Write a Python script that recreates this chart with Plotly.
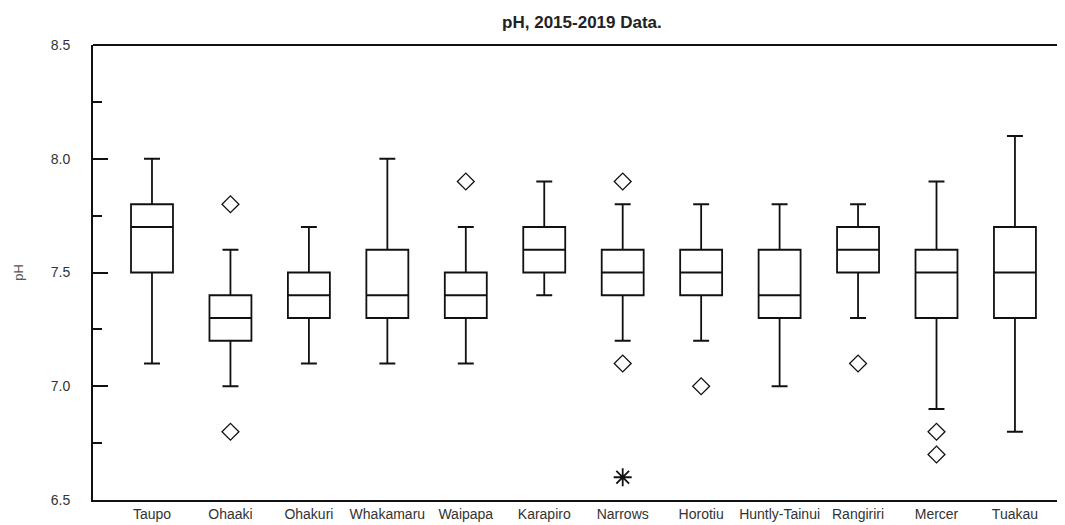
import plotly.graph_objects as go

# Sites along the river, upstream to downstream
sites = ["Taupo", "Ohaaki", "Ohakuri", "Whakamaru", "Waipapa", "Karapiro",
         "Narrows", "Horotiu", "Huntly-Tainui", "Rangiriri", "Mercer", "Tuakau"]

# Box statistics
lower_whisker = [7.1, 7.0, 7.1, 7.1, 7.1, 7.4, 7.2, 7.2, 7.0, 7.3, 6.9, 6.8]
q1_values = [7.5, 7.2, 7.3, 7.3, 7.3, 7.5, 7.4, 7.4, 7.3, 7.5, 7.3, 7.3]
medians = [7.7, 7.3, 7.4, 7.4, 7.4, 7.6, 7.5, 7.5, 7.4, 7.6, 7.5, 7.5]
q3_values = [7.8, 7.4, 7.5, 7.6, 7.5, 7.7, 7.6, 7.6, 7.6, 7.7, 7.6, 7.7]
upper_whisker = [8.0, 7.6, 7.7, 8.0, 7.7, 7.9, 7.8, 7.8, 7.8, 7.8, 7.9, 8.1]

# Outliers (diamonds) and extreme values (asterisks)
outlier_sites = ["Ohaaki", "Ohaaki", "Waipapa", "Narrows", "Narrows",
                 "Horotiu", "Rangiriri", "Mercer", "Mercer"]
outlier_values = [7.8, 6.8, 7.9, 7.9, 7.1, 7.0, 7.1, 6.8, 6.7]
extreme_sites = ["Narrows"]
extreme_values = [6.6]

fig = go.Figure()

fig.add_trace(go.Box(
    x=sites,
    q1=q1_values,
    median=medians,
    q3=q3_values,
    lowerfence=lower_whisker,
    upperfence=upper_whisker,
    boxpoints=False,
    fillcolor="rgba(255,255,255,0)",
    line=dict(color="#111111", width=1.8),
    whiskerwidth=0.38,
    showlegend=False,
))

fig.add_trace(go.Scatter(
    x=outlier_sites, y=outlier_values, mode="markers",
    marker=dict(symbol="diamond-open", size=13, color="#111111",
                line=dict(width=1.3)),
    showlegend=False,
))

fig.add_trace(go.Scatter(
    x=extreme_sites, y=extreme_values, mode="markers",
    marker=dict(symbol="asterisk-open", size=15, color="#111111",
                line=dict(width=1.8, color="#111111")),
    showlegend=False,
))

# top border only (no right-hand frame line in the original)
fig.add_shape(type="line", xref="paper", yref="paper", x0=0, x1=1, y0=1, y1=1,
              line=dict(color="#111111", width=2))

# the page body adds 8px around the figure, so size it to fill the window
fig.update_layout(
    width=1057,
    height=517,
    margin=dict(l=85, r=0, t=37, b=25),
    paper_bgcolor="white",
    plot_bgcolor="white",
    font=dict(family="Arial, Liberation Sans, sans-serif", size=14, color="#333333"),
    boxgap=0.465,
    boxgroupgap=0,
    title=dict(text="<b>pH, 2015-2019 Data.</b>", x=0.543, xanchor="center",
               xref="container", yref="container",
               y=0.973, yanchor="middle",
               font=dict(size=17, color="#222222")),
    xaxis=dict(
        type="category",
        range=[-0.752, 11.638],
        showline=True, linecolor="#111111", linewidth=2,
        ticks="", showgrid=False, zeroline=False,
        automargin=False,
        tickfont=dict(size=14, color="#333333"),
    ),
    yaxis=dict(
        range=[6.5, 8.5],
        dtick=0.5,
        tickformat=".1f",
        showline=True, linecolor="#111111", linewidth=2,
        ticks="inside", ticklen=15, tickwidth=1.8, tickcolor="#111111",
        minor=dict(ticks="inside", ticklen=9, dtick=0.25, tickwidth=1.8,
                   tickcolor="#111111", showgrid=False),
        showgrid=False, zeroline=False,
        automargin=False,
        ticklabelstandoff=18,
        title=dict(text="pH", font=dict(size=13, color="#555555"), standoff=24),
        tickfont=dict(size=14, color="#333333"),
    ),
)

fig.write_html("out.html")
